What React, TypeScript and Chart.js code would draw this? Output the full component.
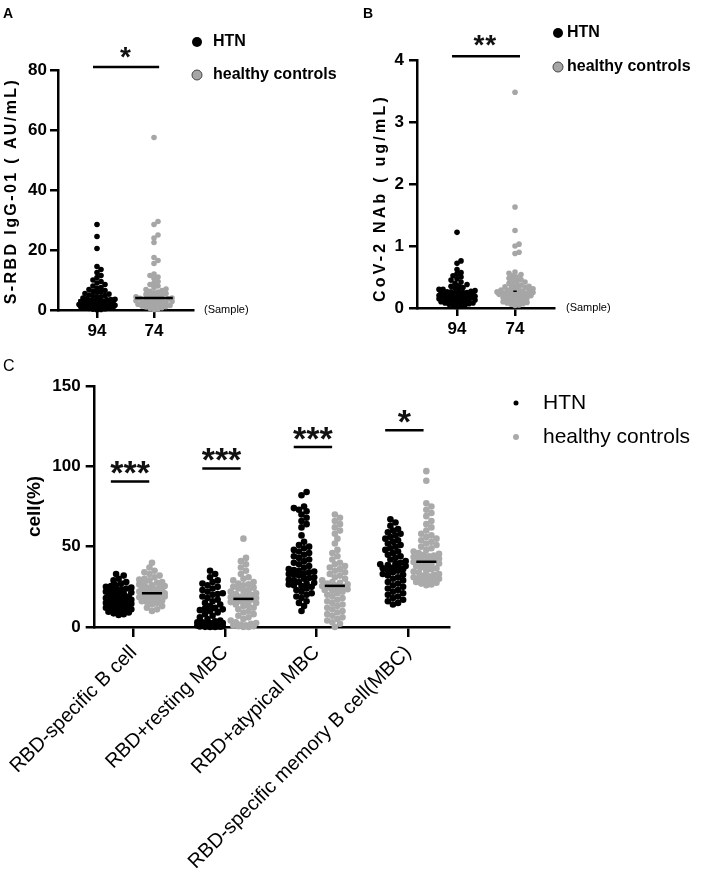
import React, { useEffect, useRef } from 'react';
import { Chart, registerables } from 'chart.js';
Chart.register(...registerables);

const FONT = "'Liberation Sans', Arial, Helvetica, sans-serif";

// ---------------- shared ----------------
const seriesNames = ['HTN', 'healthy controls'];
const sampleSizes = ['94', '74'];

// ---------------- Panel A : S-RBD IgG-01 (AU/mL) ----------------
const igGHTN = [28.5, 24.5, 20.5, 14.5, 13.5, 12.5, 11.5, 10.8, 10, 9.5, 9, 8.5, 8, 7.5, 7.2, 6.8, 6.5, 6.2, 6, 5.8, 5.5, 5.3, 5, 4.8, 4.6, 4.4, 4.2, 4, 3.8, 3.6, 3.5, 3.4, 3.2, 3, 3, 2.9, 2.8, 2.6, 2.5, 2.4, 2.3, 2.2, 2.1, 2, 1.9, 1.8, 1.7, 1.6, 1.5, 1.4, 1.3, 1.2, 1.1, 1, 1, 0.9, 0.8, 0.7, 0.6, 0.5, 0.4, 0.3, 0.2, 0.1];
const igGCtrl = [57.5, 29.5, 28.5, 25, 24, 22.5, 17.5, 16.5, 15.5, 12, 11.5, 11, 10.5, 9.5, 9, 8.5, 8, 7.5, 7, 6.8, 6.5, 6.2, 6, 5.7, 5.5, 5.2, 5, 4.8, 4.6, 4.4, 4.2, 4, 3.9, 3.8, 3.6, 3.5, 3.4, 3.2, 3.1, 3, 2.8, 2.6, 2.5, 2.3, 2.2, 2, 1.9, 1.8, 1.6, 1.5, 1.3, 1.2, 1, 0.8, 0.6, 0.4, 0.2];
const igGMedians = [3.2, 4.0];
const igGSigLevel = 81;
const igGSigText = '*';
const igGTicks = [0, 20, 40, 60, 80];

// ---------------- Panel B : CoV-2 NAb (ug/mL) ----------------
const nabHTN = [1.22, 0.76, 0.72, 0.62, 0.57, 0.55, 0.52, 0.5, 0.47, 0.45, 0.42, 0.4, 0.38, 0.36, 0.35, 0.33, 0.32, 0.3, 0.3, 0.29, 0.28, 0.27, 0.26, 0.26, 0.25, 0.25, 0.24, 0.24, 0.23, 0.23, 0.22, 0.22, 0.21, 0.21, 0.2, 0.2, 0.2, 0.19, 0.19, 0.18, 0.18, 0.17, 0.17, 0.16, 0.16, 0.15, 0.15, 0.14, 0.14, 0.13, 0.13, 0.12, 0.12, 0.11, 0.1, 0.1, 0.09, 0.08, 0.08, 0.07, 0.06, 0.05, 0.04, 0.03, 0.02];
const nabCtrl = [3.48, 1.63, 1.25, 1.03, 1.0, 0.9, 0.88, 0.58, 0.56, 0.54, 0.52, 0.5, 0.48, 0.46, 0.45, 0.43, 0.42, 0.4, 0.38, 0.37, 0.36, 0.35, 0.34, 0.33, 0.32, 0.31, 0.3, 0.3, 0.29, 0.28, 0.28, 0.27, 0.26, 0.26, 0.25, 0.25, 0.24, 0.24, 0.23, 0.22, 0.22, 0.21, 0.2, 0.2, 0.19, 0.18, 0.17, 0.16, 0.15, 0.14, 0.13, 0.12, 0.11, 0.1, 0.09, 0.08, 0.07, 0.06, 0.05, 0.04];
const nabMedians = [0.24, 0.27];
const nabSigLevel = 4.06;
const nabSigText = '**';
const nabTicks = [0, 1, 2, 3, 4];

// ---------------- Panel C : cell(%) ----------------
const cellCategories = ['RBD-specific B cell', 'RBD+resting MBC', 'RBD+atypical MBC', 'RBD-specific memory B cell(MBC)'];
const cellHTN = [
  [33, 32, 30, 29, 28, 27, 26, 25.5, 25, 24.5, 24, 23.5, 23, 22.5, 22, 21.5, 21, 20.5, 20, 19.5, 19, 19, 18.5, 18, 18, 17.5, 17, 17, 16.5, 16, 16, 16, 15.5, 15.5, 15, 15, 15, 14.5, 14.5, 14, 14, 14, 13.5, 13, 13, 12.5, 12, 12, 11.5, 11, 11, 10.5, 10, 9.5, 9, 8.5, 8, 7.5],
  [35, 33, 31, 29, 28, 27, 26, 25, 24, 23, 22, 21, 20.5, 20, 19, 18, 17, 16, 15, 14, 13, 12, 11.5, 11, 10.5, 10, 9, 8, 7, 6, 5, 4, 3.5, 3, 3, 2.5, 2.5, 2, 2, 2, 1.5, 1.5, 1.5, 1, 1, 1, 1, 0.5, 0.5, 0.5, 0.5, 0.3, 0.2, 0.1, 0, 0],
  [84, 82, 75, 74, 73, 72, 70, 68, 66, 64, 62, 57, 53, 51, 50, 49, 48, 47, 46, 45, 44, 43, 42, 41, 40, 39, 38, 37, 36, 35.5, 35, 34.5, 34, 33.5, 33, 32.5, 32, 31, 30.5, 30, 29.5, 29, 28, 27.5, 27, 26.5, 26, 25.5, 25, 24, 23, 22, 21, 20, 19, 18, 16, 15, 13, 10],
  [67, 65, 63, 61, 60, 59, 58, 57, 56, 55, 54, 53, 52, 51, 50, 49, 48, 47, 46, 45, 44, 43, 42, 41, 40, 39.5, 39, 38.5, 38, 37.5, 37, 36.5, 36, 35.5, 35, 34, 33, 32.5, 32, 31, 30, 29, 28, 27, 26, 25, 24, 23, 22, 21, 20, 19, 18, 17, 16, 15, 14],
];
const cellCtrl = [
  [40, 37, 35, 34, 33, 32, 31, 30, 29.5, 29, 28, 27.5, 27, 26.5, 26, 25.5, 25, 24.5, 24, 23.5, 23, 22.5, 22, 22, 21.5, 21, 21, 20.5, 20, 20, 19.5, 19, 19, 18.5, 18, 17.5, 17, 16.5, 16, 15.5, 15, 14, 13, 12, 11, 10],
  [55, 43, 41, 39, 37, 35, 33, 31, 30, 29, 28, 27, 26.5, 26, 25, 24.5, 24, 23, 22.5, 22, 21, 20.5, 20, 19.5, 19, 18.5, 18, 17.5, 17, 16.5, 16, 15.5, 15, 14, 13.5, 13, 12, 11, 10, 9, 8, 7, 6, 5, 4, 3, 2.5, 2, 1.5, 1, 1, 0.5, 0.5, 0, 0],
  [70, 68, 66, 64, 62, 60, 58, 55, 52, 48, 46, 44, 42, 40, 39, 38, 37, 36, 35, 34, 33, 32, 31, 30, 29, 28, 27.5, 27, 26.5, 26, 25.5, 25, 24.5, 24, 23.5, 23, 22.5, 22, 21, 20, 19, 18, 17, 16, 15, 14, 13, 12, 11, 10, 9, 8, 7, 6, 5, 4, 3, 2, 0],
  [97, 91, 77, 75, 73, 71, 69, 66, 64, 62, 60, 58, 57, 56, 55, 54, 53, 52, 51, 50, 49, 48, 47, 46, 45.5, 45, 44.5, 44, 43.5, 43, 42.5, 42, 41.5, 41, 40.5, 40, 39.5, 39, 38.5, 38, 37, 36.5, 36, 35, 34.5, 34, 33, 32.5, 32, 31.5, 31, 30.5, 30, 29.5, 29, 28.5, 28, 27.5, 27, 26.5, 26],
];
const cellMedianHTN = [15.5, 10.6, 34, 37];
const cellMedianCtrl = [21, 17.5, 25.6, 40.6];
const cellSigLevels = [90.6, 98.6, 112, 122.5];
const cellSigTexts = ['***', '***', '***', '*'];
const cellTicks = [0, 50, 100, 150];

// ---------------- helpers ----------------
// deterministic beeswarm layout with a maximum half-width (points overlap once the row is full)
function swarm(values: number[], center: number, pxX: number, pxY: number, minDist: number, step: number, maxHalf: number) {
  const sorted = [...values].sort((a, b) => a - b);
  const placed: { x: number; y: number }[] = [];
  const nCand = Math.floor(maxHalf / step) * 2 + 1;
  return sorted.map((v) => {
    const y = v * pxY;
    let best = 0;
    let bestClear = -1;
    for (let k = 0; k < nCand; k++) {
      const cand = k === 0 ? 0 : (k % 2 ? 1 : -1) * Math.ceil(k / 2) * step;
      let clear = Infinity;
      for (const p of placed) {
        if (Math.abs(p.y - y) < minDist) {
          const dd = Math.hypot(p.x - cand, p.y - y);
          if (dd < clear) clear = dd;
        }
      }
      if (clear >= minDist) { best = cand; bestClear = clear; break; }
      if (clear > bestClear + 0.01) { bestClear = clear; best = cand; }
    }
    placed.push({ x: best, y });
    return { x: center + best / pxX, y: v };
  });
}

function segment(x0: number, x1: number, y: number, width = 2.5) {
  return {
    type: 'line' as const,
    label: '',
    data: [{ x: x0, y }, { x: x1, y }],
    borderColor: '#000',
    borderWidth: width,
    pointRadius: 0,
    clip: false as const,
    order: 1,
  };
}

function yAxis(min: number, max: number, ticks: number[], tickLen: number, pad: number, font: any, width: number, title?: any) {
  return {
    type: 'linear' as const,
    min, max,
    afterBuildTicks: (s: any) => { s.ticks = ticks.map((v) => ({ value: v })); },
    ticks: { color: '#000', font, padding: pad },
    grid: { drawOnChartArea: false, drawTicks: true, tickLength: tickLen, lineWidth: 2.5, color: '#000' },
    border: { display: true, width: 2.5, color: '#000' },
    title: title || { display: false },
    afterFit: (s: any) => { s.width = width; },
  };
}

function xAxis(min: number, max: number, labels: string[], tickLen: number, pad: number, font: any, height: number, rotation: number) {
  return {
    type: 'linear' as const,
    min, max,
    afterBuildTicks: (s: any) => { s.ticks = labels.map((_, i) => ({ value: i + 1 })); },
    ticks: {
      color: '#000', font, padding: pad, autoSkip: false, maxRotation: rotation, minRotation: rotation,
      callback: (v: any) => labels[Math.round(Number(v)) - 1] ?? '',
    },
    grid: { drawOnChartArea: false, drawTicks: true, tickLength: tickLen, lineWidth: 2.5, color: '#000' },
    border: { display: true, width: 2.5, color: '#000' },
    afterFit: (s: any) => { s.height = height; },
  };
}

type Decor = {
  letter: { text: string; x: number; y: number; font: string };
  yTitle?: { text: string; x: number; y: number; font: string; spacing: number };
  sample?: { text: string; x: number; y: number; font: string };
  legend: { dotX: number; textX: number; y: number[]; font: string; radius: number[]; fill: string[]; stroke: (string | null)[] };
  stars: { x: number; y: number; text: string }[];
  starSize: number;
  starSpacing: number;
  starLift: number;
};

function decorPlugin(d: Decor) {
  return {
    id: 'decor',
    afterDraw(chart: any) {
      const ctx = chart.ctx as CanvasRenderingContext2D;
      ctx.save();
      ctx.fillStyle = '#000';
      ctx.textBaseline = 'middle';
      ctx.textAlign = 'left';
      ctx.font = d.letter.font;
      ctx.fillText(d.letter.text, d.letter.x, d.letter.y);
      if (d.yTitle) {
        ctx.save();
        ctx.translate(d.yTitle.x, d.yTitle.y);
        ctx.rotate(-Math.PI / 2);
        ctx.textAlign = 'center';
        ctx.font = d.yTitle.font;
        (ctx as any).letterSpacing = d.yTitle.spacing + 'px';
        ctx.fillText(d.yTitle.text, 0, 0);
        ctx.restore();
      }
      if (d.sample) {
        ctx.font = d.sample.font;
        ctx.fillText(d.sample.text, d.sample.x, d.sample.y);
      }
      const ds = chart.data.datasets;
      d.legend.y.forEach((y, i) => {
        ctx.beginPath();
        ctx.arc(d.legend.dotX, y, d.legend.radius[i], 0, Math.PI * 2);
        ctx.fillStyle = d.legend.fill[i];
        ctx.fill();
        const st = d.legend.stroke[i];
        if (st) { ctx.strokeStyle = st; ctx.lineWidth = 1; ctx.stroke(); }
        ctx.fillStyle = '#000';
        ctx.font = d.legend.font;
        ctx.textAlign = 'left';
        ctx.textBaseline = 'middle';
        ctx.fillText(ds[i].label, d.legend.textX, y);
      });
      const xs = chart.scales.x;
      const ys = chart.scales.y;
      ctx.font = `bold ${d.starSize}px ${FONT}`;
      ctx.textAlign = 'center';
      ctx.textBaseline = 'alphabetic';
      ctx.fillStyle = '#111';
      (ctx as any).letterSpacing = d.starSpacing + 'px';
      d.stars.forEach((s) => {
        const px = xs.getPixelForValue(s.x) + d.starSpacing / 2;
        const py = ys.getPixelForValue(s.y) - d.starLift + 0.575 * d.starSize;
        ctx.fillText(s.text, px, py);
      });
      ctx.restore();
    },
  };
}

const GREY_AB = '#a6a6a6';
const GREY_C = '#aaaaaa';

// ---------------- chart configs ----------------
function makeA() {
  const pxX = 57, pxY = 3;
  return {
    type: 'scatter' as const,
    data: {
      datasets: [
        { label: seriesNames[0], data: swarm(igGHTN, 1, pxX, pxY, 4.0, 2.0, 18), backgroundColor: '#000', borderWidth: 0, pointRadius: 2.8, clip: false, order: 2 },
        { label: seriesNames[1], data: swarm(igGCtrl, 2, pxX, pxY, 4.0, 2.0, 18), backgroundColor: GREY_AB, borderWidth: 0, pointRadius: 2.8, clip: false, order: 2 },
        ...igGMedians.map((m, i) => segment(i + 1 - 0.33, i + 1 + 0.33, m)),
        segment(0.93, 2.09, igGSigLevel),
      ],
    },
    options: {
      animation: false, responsive: false, events: [],
      layout: { padding: { left: 0, top: 70, right: 161, bottom: 0 } },
      plugins: { legend: { display: false }, tooltip: { enabled: false } },
      scales: {
        x: xAxis(0.316, 2.684, sampleSizes, 8, 3, { family: FONT, size: 17, weight: 'bold' }, 35, 0),
        y: yAxis(0, 80, igGTicks, 8, 3, { family: FONT, size: 17, weight: 'bold' }, 58),
      },
    },
    plugins: [decorPlugin({
      letter: { text: 'A', x: 3, y: 14, font: `bold 14px ${FONT}` },
      yTitle: { text: 'S-RBD IgG-01 ( AU/mL)', x: 12, y: 191, font: `bold 16px ${FONT}`, spacing: 2.4 },
      sample: { text: '(Sample)', x: 204, y: 310, font: `11px ${FONT}` },
      legend: { dotX: 197, textX: 213, y: [42, 75], font: `bold 16px ${FONT}`, radius: [5, 5], fill: ['#000', GREY_AB], stroke: [null, '#444'] },
      stars: [{ x: 1.5, y: igGSigLevel, text: igGSigText }],
      starSize: 28, starSpacing: 0, starLift: 17,
    })],
  };
}

function makeB() {
  const pxX = 58, pxY = 62;
  return {
    type: 'scatter' as const,
    data: {
      datasets: [
        { label: seriesNames[0], data: swarm(nabHTN, 1, pxX, pxY, 4.0, 2.0, 19), backgroundColor: '#000', borderWidth: 0, pointRadius: 2.8, clip: false, order: 2 },
        { label: seriesNames[1], data: swarm(nabCtrl, 2, pxX, pxY, 4.0, 2.0, 19), backgroundColor: GREY_AB, borderWidth: 0, pointRadius: 2.8, clip: false, order: 2 },
        ...nabMedians.map((m, i) => segment(i + 1 - 0.03, i + 1 + 0.03, m, 1.5)),
        segment(0.914, 2.086, nabSigLevel),
      ],
    },
    options: {
      animation: false, responsive: false, events: [],
      layout: { padding: { left: 0, top: 60, right: 154, bottom: 0 } },
      plugins: { legend: { display: false }, tooltip: { enabled: false } },
      scales: {
        x: xAxis(0.31, 2.672, sampleSizes, 8, 3, { family: FONT, size: 17, weight: 'bold' }, 37, 0),
        y: yAxis(0, 4, nabTicks, 8, 5, { family: FONT, size: 17, weight: 'bold' }, 63),
      },
    },
    plugins: [decorPlugin({
      letter: { text: 'B', x: 9, y: 14, font: `bold 14px ${FONT}` },
      yTitle: { text: 'CoV-2 NAb ( ug/mL)', x: 27, y: 198, font: `bold 16px ${FONT}`, spacing: 3.2 },
      sample: { text: '(Sample)', x: 212, y: 308, font: `11px ${FONT}` },
      legend: { dotX: 204, textX: 213, y: [33, 67], font: `bold 16px ${FONT}`, radius: [5, 5], fill: ['#000', GREY_AB], stroke: [null, '#444'] },
      stars: [{ x: 1.48, y: nabSigLevel, text: nabSigText }],
      starSize: 28, starSpacing: 1, starLift: 18,
    })],
  };
}

function makeC() {
  const pxX = 93.67, pxY = 1.6;
  const offH = -0.165, offC = 0.2;
  return {
    type: 'scatter' as const,
    data: {
      datasets: [
        { label: seriesNames[0], data: cellHTN.flatMap((vals, i) => swarm(vals, i + 1 + offH, pxX, pxY, 5.2, 2.6, 13)), backgroundColor: '#000', borderWidth: 0, pointRadius: 3.3, clip: false, order: 2 },
        { label: seriesNames[1], data: cellCtrl.flatMap((vals, i) => swarm(vals, i + 1 + offC, pxX, pxY, 5.2, 2.6, 13)), backgroundColor: GREY_C, borderWidth: 0, pointRadius: 3.3, clip: false, order: 2 },
        ...cellMedianHTN.map((m, i) => segment(i + 1 + offH - 0.11, i + 1 + offH + 0.11, m)),
        ...cellMedianCtrl.map((m, i) => segment(i + 1 + offC - 0.11, i + 1 + offC + 0.11, m)),
        ...cellSigLevels.map((lv, i) => segment(i + 1 - 0.25, i + 1 + 0.17, lv)),
      ],
    },
    options: {
      animation: false, responsive: false, events: [],
      layout: { padding: { left: 0, top: 36, right: 259, bottom: 0 } },
      plugins: { legend: { display: false }, tooltip: { enabled: false } },
      scales: {
        x: xAxis(0.573, 4.448, cellCategories, 10, 4, { family: FONT, size: 20 }, 244, 45),
        y: yAxis(0, 150, cellTicks, 9, 5, { family: FONT, size: 17, weight: 'bold' }, 86,
          { display: true, text: 'cell(%)', color: '#000', font: { family: FONT, size: 19, weight: 'bold' }, padding: { top: 15, bottom: 0 } }),
      },
    },
    plugins: [decorPlugin({
      letter: { text: 'C', x: 3, y: 17, font: `16px ${FONT}` },
      legend: { dotX: 516, textX: 543, y: [53, 87], font: `21px ${FONT}`, radius: [2.5, 3], fill: ['#000', GREY_C], stroke: [null, null] },
      stars: cellSigLevels.map((lv, i) => ({ x: i + 1 - 0.04, y: lv, text: cellSigTexts[i] })),
      starSize: 34, starSpacing: 0, starLift: 17,
    })],
  };
}

function ChartCanvas({ left, top, width, height, make }: { left: number; top: number; width: number; height: number; make: () => any }) {
  const ref = useRef<HTMLCanvasElement | null>(null);
  useEffect(() => {
    if (!ref.current) return;
    const chart = new Chart(ref.current, make());
    return () => chart.destroy();
  }, []);
  return (
    <div style={{ position: 'absolute', left, top, width, height }}>
      <canvas ref={ref} width={width} height={height} style={{ width, height, display: 'block' }} />
    </div>
  );
}

export default function App() {
  return (
    <div style={{ position: 'absolute', left: 0, top: 0, width: 708, height: 871, background: '#fff', overflow: 'hidden' }}>
      <ChartCanvas left={0} top={0} width={354} height={345} make={makeA} />
      <ChartCanvas left={354} top={0} width={354} height={345} make={makeB} />
      <ChartCanvas left={0} top={350} width={708} height={521} make={makeC} />
    </div>
  );
}
